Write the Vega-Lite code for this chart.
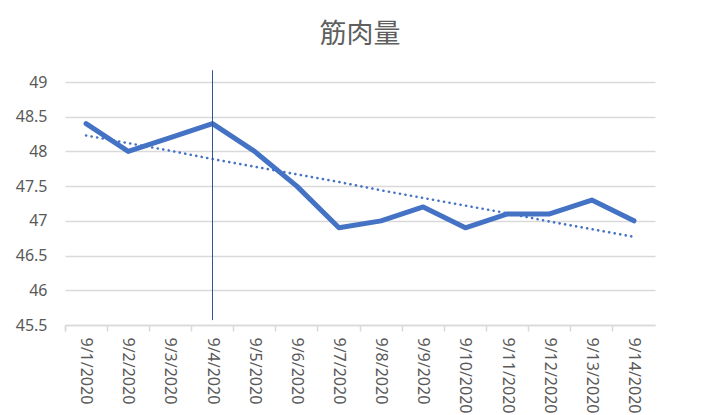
{
  "$schema": "https://vega.github.io/schema/vega-lite/v6.json",
  "autosize": "none",
  "width": 590,
  "height": 243,
  "padding": {"left": 65, "top": 82, "right": 55, "bottom": 90},
  "background": "white",
  "title": {
    "text": "筋肉量",
    "font": "Noto Sans CJK JP",
    "fontSize": 27,
    "fontWeight": "normal",
    "color": "#5f5f5f",
    "anchor": "middle",
    "offset": 21
  },
  "datasets": {
    "muscle": [
      {"date": "9/1/2020", "value": 48.4, "trend": 48.23},
      {"date": "9/2/2020", "value": 48.0, "trend": 48.12},
      {"date": "9/3/2020", "value": 48.2, "trend": 48.01},
      {"date": "9/4/2020", "value": 48.4, "trend": 47.89},
      {"date": "9/5/2020", "value": 48.0, "trend": 47.78},
      {"date": "9/6/2020", "value": 47.5, "trend": 47.67},
      {"date": "9/7/2020", "value": 46.9, "trend": 47.56},
      {"date": "9/8/2020", "value": 47.0, "trend": 47.44},
      {"date": "9/9/2020", "value": 47.2, "trend": 47.33},
      {"date": "9/10/2020", "value": 46.9, "trend": 47.22},
      {"date": "9/11/2020", "value": 47.1, "trend": 47.11},
      {"date": "9/12/2020", "value": 47.1, "trend": 46.99},
      {"date": "9/13/2020", "value": 47.3, "trend": 46.88},
      {"date": "9/14/2020", "value": 47.0, "trend": 46.77}
    ],
    "marker": [
      {"date": "9/4/2020", "low": 45.57, "high": 49.17}
    ]
  },
  "encoding": {
    "x": {
      "field": "date",
      "type": "ordinal",
      "sort": ["9/1/2020", "9/2/2020", "9/3/2020", "9/4/2020", "9/5/2020", "9/6/2020", "9/7/2020", "9/8/2020", "9/9/2020", "9/10/2020", "9/11/2020", "9/12/2020", "9/13/2020", "9/14/2020"],
      "bandPosition": 0.5,
      "scale": {"type": "band", "paddingInner": 0, "paddingOuter": 0},
      "axis": {
        "title": null,
        "labelAngle": 90,
        "labelAlign": "left",
        "labelBaseline": "middle",
        "labelFont": "Noto Sans",
        "labelFontSize": 16,
        "labelColor": "#595959",
        "labelPadding": 6,
        "labelOverlap": false,
        "bandPosition": 0,
        "tickExtra": true,
        "tickColor": "#D9D9D9",
        "tickSize": 6,
        "tickWidth": 1.5,
        "domainColor": "#D9D9D9",
        "domainWidth": 1.5,
        "grid": false
      }
    },
    "y": {
      "type": "quantitative",
      "scale": {"domain": [45.5, 49], "nice": false, "zero": false},
      "axis": {
        "title": null,
        "values": [45.5, 46, 46.5, 47, 47.5, 48, 48.5, 49],
        "format": "~g",
        "labelFont": "Noto Sans",
        "labelFontSize": 16,
        "labelColor": "#595959",
        "labelPadding": 18,
        "labelOverlap": false,
        "ticks": false,
        "domain": false,
        "gridColor": "#D9D9D9",
        "gridWidth": 1.5
      }
    }
  },
  "layer": [
    {
      "data": {"name": "muscle"},
      "mark": {"type": "line", "color": "#4472C4", "strokeWidth": 2.6, "strokeDash": [0.1, 5.5], "strokeCap": "round"},
      "encoding": {
        "y": {"field": "trend"}
      }
    },
    {
      "data": {"name": "muscle"},
      "mark": {"type": "line", "color": "#4472C4", "strokeWidth": 5, "strokeCap": "round", "strokeJoin": "round"},
      "encoding": {
        "y": {"field": "value"}
      }
    },
    {
      "data": {"name": "marker"},
      "mark": {"type": "rule", "color": "#2F5597", "strokeWidth": 1},
      "encoding": {
        "y": {"field": "low"},
        "y2": {"field": "high"}
      }
    }
  ],
  "config": {"view": {"stroke": null}}
}
